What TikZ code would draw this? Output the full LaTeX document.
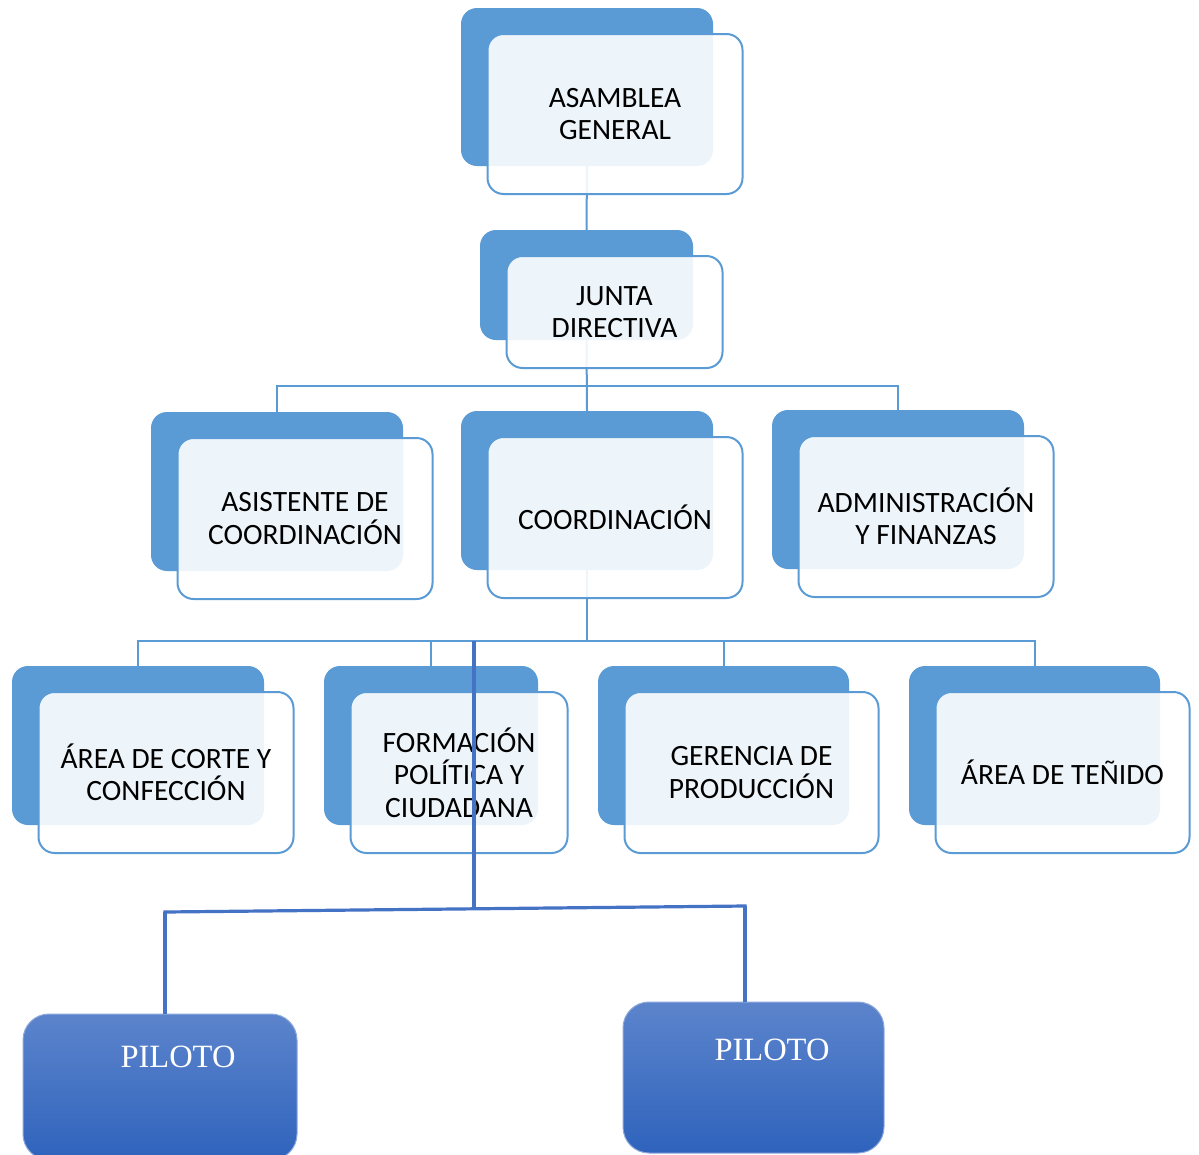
\documentclass[tikz,border=0pt]{standalone}
\usepackage{fontspec}
\setmainfont{Carlito}
\newfontfamily\pilfont{Liberation Serif}
\definecolor{bk}{HTML}{5B9BD5}
\definecolor{dk}{HTML}{4472C4}
\definecolor{piltop}{HTML}{5C84CC}
\definecolor{pilbot}{HTML}{2F63BC}
\tikzset{
  backbox/.style={draw=none, fill=bk, rounded corners=16pt, inner sep=0pt},
  frontbox/.style={draw=bk, line width=2pt, fill=white, fill opacity=0.9, text opacity=1,
    rounded corners=16pt, inner sep=0pt, align=center,
    font=\fontsize{29.5}{32.5}\selectfont},
  conn/.style={draw=bk, line width=2pt},
  darkline/.style={draw=dk, line width=3.2pt},
  pilbox/.style={top color=piltop, bottom color=pilbot, draw=piltop!70!white, line width=1pt,
    rounded corners=26pt, inner sep=0pt},
  piltext/.style={text=white, font=\pilfont\fontsize{32.5}{40}\selectfont, inner sep=0pt}
}
% back box: name, cx, cy, w, h
\newcommand\backunit[5]{%
  \node[backbox, minimum width=#4pt, minimum height=#5pt] (#1) at (#2,#3) {};
}
% front box: name, back name, w, h, text
\newcommand\frontunit[5]{%
  \node[frontbox, minimum width={(#3+3)*1pt}, minimum height={(#4+2)*1pt},
        xshift=28pt, yshift=-27pt] (#1) at (#2) {#5};
}
\begin{document}
\begin{tikzpicture}[x=1pt,y=-1pt]
\clip (0,0) rectangle (1199,1154);
\fill[white] (0,0) rectangle (1199,1154);
\coordinate (b2) at (0,386);
\coordinate (b3) at (0,641);
% back boxes
\backunit{ag}{587}{87}{252}{158}
\backunit{jd}{586.5}{285}{213}{110}
\backunit{as}{277}{491.5}{252}{159}
\backunit{co}{587}{490.5}{252}{159}
\backunit{ad}{898}{489.5}{252}{159}
\backunit{ct}{138}{745.5}{252}{159}
\backunit{fp}{431}{745.5}{214}{159}
\backunit{gp}{723.5}{745.5}{251}{159}
\backunit{te}{1034.5}{745.5}{251}{159}
% light connectors
\draw[conn] (ag.south) -- (jd.north);
\draw[conn] (jd.south) -- (co.north);
\draw[conn] (jd.south |- b2) -| (as.north);
\draw[conn] (jd.south |- b2) -| (ad.north);
\draw[conn] (co.south) -- (co.south |- b3);
\draw[conn] (co.south |- b3) -| (ct.north);
\draw[conn] (co.south |- b3) -| (fp.north);
\draw[conn] (co.south |- b3) -| (gp.north);
\draw[conn] (co.south |- b3) -| (te.north);
% front boxes
\frontunit{agf}{ag}{252}{158}{ASAMBLEA\\GENERAL}
\frontunit{jdf}{jd}{213}{110}{JUNTA\\DIRECTIVA}
\frontunit{asf}{as}{252}{159}{ASISTENTE DE\\COORDINACIÓN}
\frontunit{cof}{co}{252}{159}{COORDINACIÓN}
\frontunit{adf}{ad}{252}{159}{ADMINISTRACIÓN\\Y FINANZAS}
\frontunit{ctf}{ct}{252}{159}{ÁREA DE CORTE Y\\CONFECCIÓN}
\frontunit{fpf}{fp}{214}{159}{FORMACIÓN\\POLÍTICA Y\\CIUDADANA}
\frontunit{gpf}{gp}{251}{159}{GERENCIA DE\\PRODUCCIÓN}
\frontunit{tef}{te}{251}{159}{ÁREA DE TEÑIDO}
% pilot boxes
\node[pilbox, minimum width=274pt, minimum height=146pt] (p1) at (160,1087) {};
\node[pilbox, minimum width=261pt, minimum height=151pt] (p2) at (753.5,1077.5) {};
\node[piltext] (p1t) at (178,1057) {PILOTO};
\node[piltext] (p2t) at (772,1050) {PILOTO};
% dark connectors
\coordinate (dtop) at (474,641);
\coordinate (dmid) at (474,909);
\coordinate (dl) at (165,912);
\coordinate (dr) at (745,906);
\draw[darkline] (dtop) -- (dmid);
\draw[darkline, line cap=rect] (dl) -- (dr);
\draw[darkline] (dl) -- (dl |- p1.north);
\draw[darkline] (dr) -- (dr |- p2.north);
\end{tikzpicture}
\end{document}
